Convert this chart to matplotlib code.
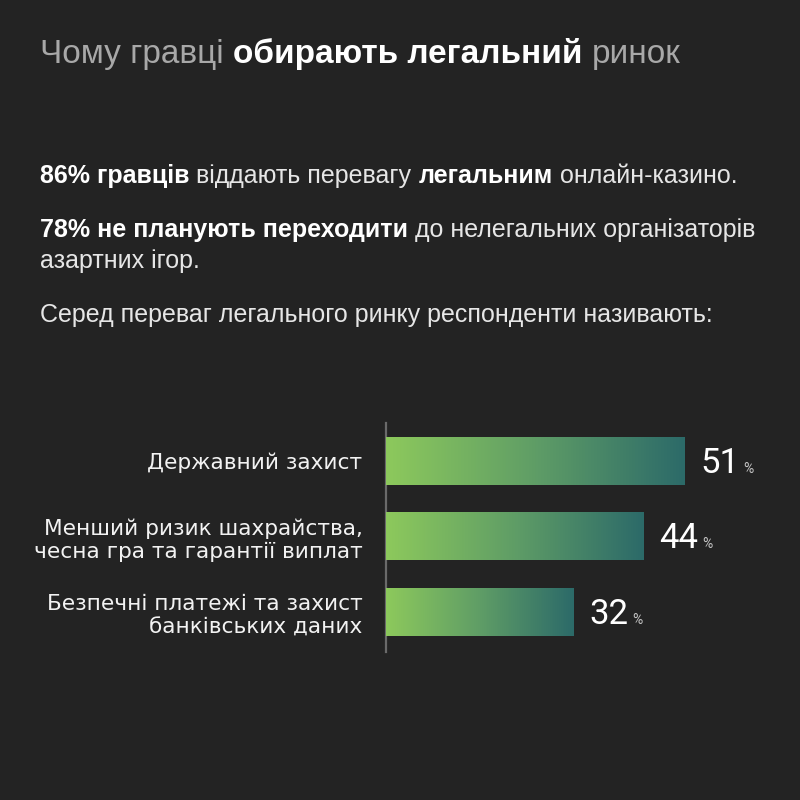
import matplotlib
matplotlib.use("Agg")
import matplotlib.pyplot as plt
import numpy as np
from matplotlib.colors import LinearSegmentedColormap

categories = ["Державний захист",
              "Менший ризик шахрайства,\nчесна гра та гарантії виплат",
              "Безпечні платежі та захист\nбанківських даних"]
values = [51, 44, 32]
value_unit = "%"

title_parts = [("Чому гравці", "normal"), ("обирають легальний", "bold"), ("ринок", "normal")]
body_lines = [
    [("86% гравців", "bold"), ("віддають перевагу", "normal"), ("легальним", "bold"), ("онлайн-казино.", "normal")],
    [("78% не планують переходити", "bold"), ("до нелегальних організаторів", "normal")],
    [("азартних ігор.", "normal")],
    [("Серед переваг легального ринку респонденти називають:", "normal")],
]

BG = "#232323"
W, H = 800, 800
fig = plt.figure(figsize=(8, 8), dpi=100, facecolor=BG)
renderer = fig.canvas.get_renderer()

def width_px(s, **kw):
    t = fig.text(0, 0, s, **kw)
    w = t.get_window_extent(renderer).width
    t.remove()
    return w

def mixed_line(x_px, y_px, parts, size, family, colors):
    x = x_px
    sp = width_px("x x", fontsize=size, family=family) - width_px("xx", fontsize=size, family=family)
    for s, wt in parts:
        kw = dict(fontsize=size, family=family, weight=wt)
        t = fig.text(x / W, 1 - y_px / H, s, color=colors[wt], va="baseline", ha="left", **kw)
        x += t.get_window_extent(renderer).width + sp

# Title
mixed_line(40, 63, title_parts, 24.0, "Liberation Sans",
           {"normal": "#a8a8a8", "bold": "#ffffff"})

# Body text
body_y = [183, 237, 268, 322]
for yy, parts in zip(body_y, body_lines):
    mixed_line(40, yy, parts, 18.0, "Liberation Sans",
               {"normal": "#e6e6e6", "bold": "#ffffff"})

# Chart axes
ax_left, ax_right = 386, 786
ax_top, ax_bot = 423, 652
ax = fig.add_axes([ax_left / W, 1 - ax_bot / H, (ax_right - ax_left) / W, (ax_bot - ax_top) / H])
ax.set_facecolor("none")
px_per_unit = 5.85
xmax = (ax_right - ax_left) / px_per_unit
ypos = np.arange(len(values))
bh = 0.636
bars = ax.barh(ypos, values, height=bh, color="#5a9a66", linewidth=0)

cmap = LinearSegmentedColormap.from_list("g", ["#8dc95c", "#5f9d66", "#2c6a69"])
grad = np.linspace(0, 1, 256).reshape(1, -1)
for b, v, y in zip(bars, values, ypos):
    im = ax.imshow(grad, cmap=cmap, aspect="auto", extent=[0, v, y + bh / 2, y - bh / 2],
                   interpolation="bicubic", zorder=3)
    im.set_clip_path(b)
ax.set_xlim(0, xmax)
ax.set_ylim(2.53, -0.503)

for sp in ["top", "right", "bottom"]:
    ax.spines[sp].set_visible(False)
ax.spines["left"].set_color("#6a6a6a")
ax.spines["left"].set_linewidth(1.6)
ax.set_xticks([])
ax.set_yticks(ypos)
ax.set_yticklabels(categories, fontsize=15.6, family="DejaVu Sans", color="#f2f2f2",
                   linespacing=1.22, ha="right")
ax.tick_params(axis="y", length=0, pad=17)

for v, y in zip(values, ypos):
    t = ax.annotate(str(v), xy=(v, y), xytext=(16, -12), textcoords="offset pixels",
                    va="baseline", ha="left", fontsize=25, family="Roboto", weight="normal",
                    color="#ffffff")
    bb = t.get_window_extent(renderer)
    ax.annotate(value_unit, xy=(v, y), xytext=(16 + bb.width + 4, -12), textcoords="offset pixels",
                va="baseline", ha="left", fontsize=10, family="Roboto", weight="normal",
                color="#c4c4c4")

fig.savefig("out.png", dpi=100, facecolor=BG)
